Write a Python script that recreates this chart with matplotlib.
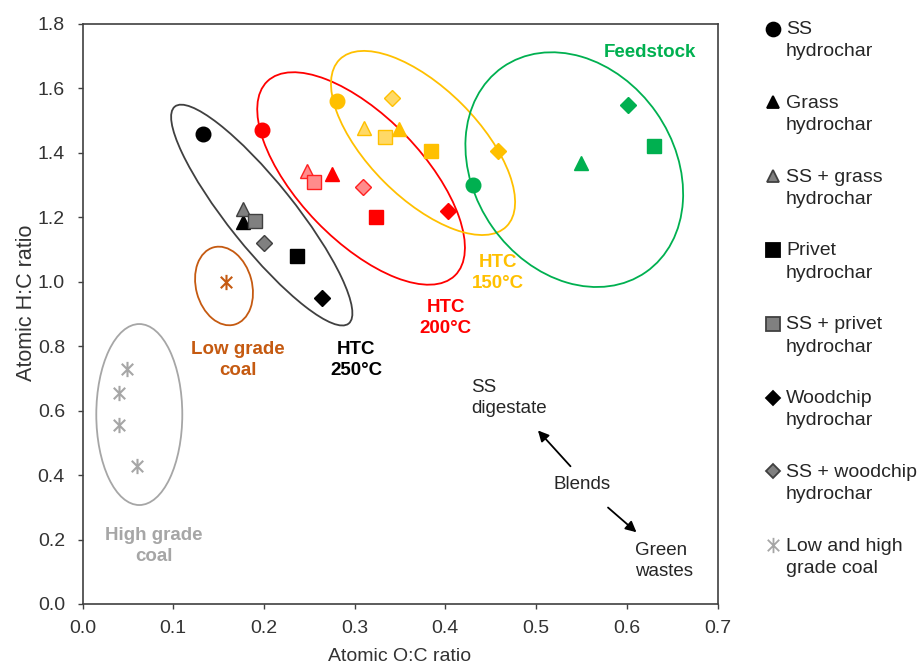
import numpy as np
import matplotlib
matplotlib.use("Agg")
import matplotlib.pyplot as plt
from matplotlib.patches import Ellipse
from matplotlib.path import Path
from matplotlib.transforms import ScaledTranslation

plt.rcParams['font.family'] = ['Liberation Sans', 'DejaVu Sans']

# order of the seven hydrochar types
types = ['SS', 'Grass', 'SS + grass', 'Privet', 'SS + privet', 'Woodchip', 'SS + woodchip']

# HTC 250 C (black)
x250 = [0.133, 0.177, 0.177, 0.237, 0.190, 0.264, 0.200]
y250 = [1.46, 1.185, 1.225, 1.08, 1.19, 0.95, 1.12]
# HTC 200 C (red)
x200 = [0.198, 0.275, 0.248, 0.323, 0.255, 0.403, 0.309]
y200 = [1.47, 1.335, 1.345, 1.20, 1.31, 1.22, 1.295]
# HTC 150 C (yellow)
x150 = [0.281, 0.349, 0.310, 0.384, 0.334, 0.458, 0.341]
y150 = [1.56, 1.475, 1.478, 1.405, 1.45, 1.405, 1.57]
# feedstock (green), only the pure materials
feed_types = ['SS', 'Grass', 'Privet', 'Woodchip']
x_feed = [0.430, 0.549, 0.630, 0.601]
y_feed = [1.30, 1.37, 1.42, 1.55]
# coals
x_low = [0.158]
y_low = [1.00]
x_high = [0.049, 0.040, 0.040, 0.060]
y_high = [0.73, 0.655, 0.557, 0.428]

legend_labels = ['SS\nhydrochar', 'Grass\nhydrochar', 'SS + grass\nhydrochar',
                 'Privet\nhydrochar', 'SS + privet\nhydrochar', 'Woodchip\nhydrochar',
                 'SS + woodchip\nhydrochar', 'Low and high\ngrade coal']

markers = {'SS': ('o', 10.5), 'Grass': ('^', 9.5), 'SS + grass': ('^', 9.5),
           'Privet': ('s', 10.5), 'SS + privet': ('s', 10.5),
           'Woodchip': ('D', 8), 'SS + woodchip': ('D', 8)}
blend = ['SS + grass', 'SS + privet', 'SS + woodchip']

star = Path([(0, -1), (0, 1), (-0.75, -0.75), (0.75, 0.75), (-0.75, 0.75), (0.75, -0.75)],
            [Path.MOVETO, Path.LINETO] * 3)

BLACK, RED, YEL, GRN = '#000000', '#FF0000', '#FFC000', '#00B050'
BROWN, GREY = '#C55A11', '#A6A6A6'
light = {BLACK: ('#808080', '#404040'), RED: ('#FF8C8C', '#FF2020'), YEL: ('#FFD966', '#FFC000')}

fig = plt.figure(figsize=(9.24, 6.64), dpi=100)
ax = fig.add_axes([82.5 / 924, 1 - 604 / 664, 635 / 924, 580 / 664])
ax.set_xlim(0, 0.7)
ax.set_ylim(0, 1.8)
ax.set_xticks(np.arange(0, 0.71, 0.1))
ax.set_yticks(np.arange(0, 1.81, 0.2))
ax.xaxis.set_major_formatter(plt.FormatStrFormatter('%.1f'))
ax.yaxis.set_major_formatter(plt.FormatStrFormatter('%.1f'))
ax.tick_params(direction='out', length=3.6, width=1, color='#404040', labelsize=14,
               labelcolor='#333333')
ax.tick_params(axis='x', pad=8)
ax.tick_params(axis='y', pad=9)
for s in ax.spines.values():
    s.set_color('#404040')
    s.set_linewidth(1.2)
ax.set_xlabel('Atomic O:C ratio', fontsize=14, color='#333333', labelpad=8)
ax.set_ylabel('Atomic H:C ratio', fontsize=15.5, color='#333333')
ax.yaxis.set_label_coords(-0.071, 0.52)


def ring(cx, cy, a, b, ang, color):
    # ellipse sized in pixels, centred on a data point
    e = Ellipse((0, 0), 2 * a / 100, 2 * b / 100, angle=ang, fill=False, ec=color, lw=1.3,
                transform=fig.dpi_scale_trans + ScaledTranslation(cx, cy, ax.transData))
    ax.add_patch(e)


ring(0.1976, 1.207, 139, 33, -51.3, '#404040')
ring(0.3071, 1.3206, 135, 62, -46, RED)
ring(0.3754, 1.4308, 118, 55, -45, YEL)
ring(0.5421, 1.348, 125, 100, -55, GRN)
ring(0.156, 0.987, 40, 28, -75, BROWN)
ring(0.0626, 0.588, 43, 90.5, 0, GREY)


def draw_group(xs, ys, names, color):
    for x, y, n in zip(xs, ys, names):
        m, ms = markers[n]
        if n in blend:
            fc, ec = light[color]
        else:
            fc, ec = color, color
        ax.plot(x, y, marker=m, ms=ms, mfc=fc, mec=ec, mew=1, ls='none', zorder=3)


draw_group(x250, y250, types, BLACK)
draw_group(x200, y200, types, RED)
draw_group(x150, y150, types, YEL)
draw_group(x_feed, y_feed, feed_types, GRN)
ax.plot(x_low, y_low, marker=star, ms=11, mec=BROWN, mew=1.5, ls='none', zorder=3)
ax.plot(x_high, y_high, marker=star, ms=11, mec=GREY, mew=1.5, ls='none', zorder=3)

# group labels
bold = dict(fontsize=13.5, fontweight='bold', ha='center', va='center', linespacing=1.3)
ax.text(0.626, 1.711, 'Feedstock', color=GRN, **bold)
ax.text(0.458, 1.028, 'HTC\n150°C', color=YEL, **bold)
ax.text(0.4006, 0.888, 'HTC\n200°C', color=RED, **bold)
ax.text(0.3015, 0.758, 'HTC\n250°C', color=BLACK, **bold)
ax.text(0.171, 0.758, 'Low grade\ncoal', color=BROWN, **bold)
ax.text(0.0786, 0.18, 'High grade\ncoal', color=GREY, **bold)

norm = dict(fontsize=13.5, color='#262626', va='center', linespacing=1.32)
ax.text(0.428, 0.64, 'SS\ndigestate', ha='left', **norm)
ax.text(0.551, 0.37, 'Blends', ha='center', **norm)
ax.text(0.609, 0.134, 'Green\nwastes', ha='left', **norm)
ax.annotate('', xy=(0.500, 0.545), xytext=(0.540, 0.421),
            arrowprops=dict(arrowstyle='-|>', color='black', lw=1.3, mutation_scale=16))
ax.annotate('', xy=(0.613, 0.217), xytext=(0.577, 0.305),
            arrowprops=dict(arrowstyle='-|>', color='black', lw=1.3, mutation_scale=16))

# legend drawn by hand so the marker sits on the first text line
lg = fig.add_axes([0, 0, 1, 1])
lg.set_xlim(0, 924)
lg.set_ylim(664, 0)
lg.axis('off')
leg_m = [('o', 10, BLACK, BLACK), ('^', 9, BLACK, BLACK), ('^', 9, '#808080', '#404040'),
         ('s', 10, BLACK, BLACK), ('s', 10, '#808080', '#404040'), ('D', 7.5, BLACK, BLACK),
         ('D', 7.5, '#808080', '#404040'), (star, 11, 'none', GREY)]
for i, (lab, (m, ms, fc, ec)) in enumerate(zip(legend_labels, leg_m)):
    yy = 28.5 + i * 73.8
    lg.plot(773, yy, marker=m, ms=ms, mfc=fc, mec=ec, mew=1.3, ls='none')
    lg.text(786, yy - 7.5, lab, fontsize=14, color='#262626', ha='left', va='top',
            linespacing=1.42)

fig.savefig('out.png', dpi=100)
